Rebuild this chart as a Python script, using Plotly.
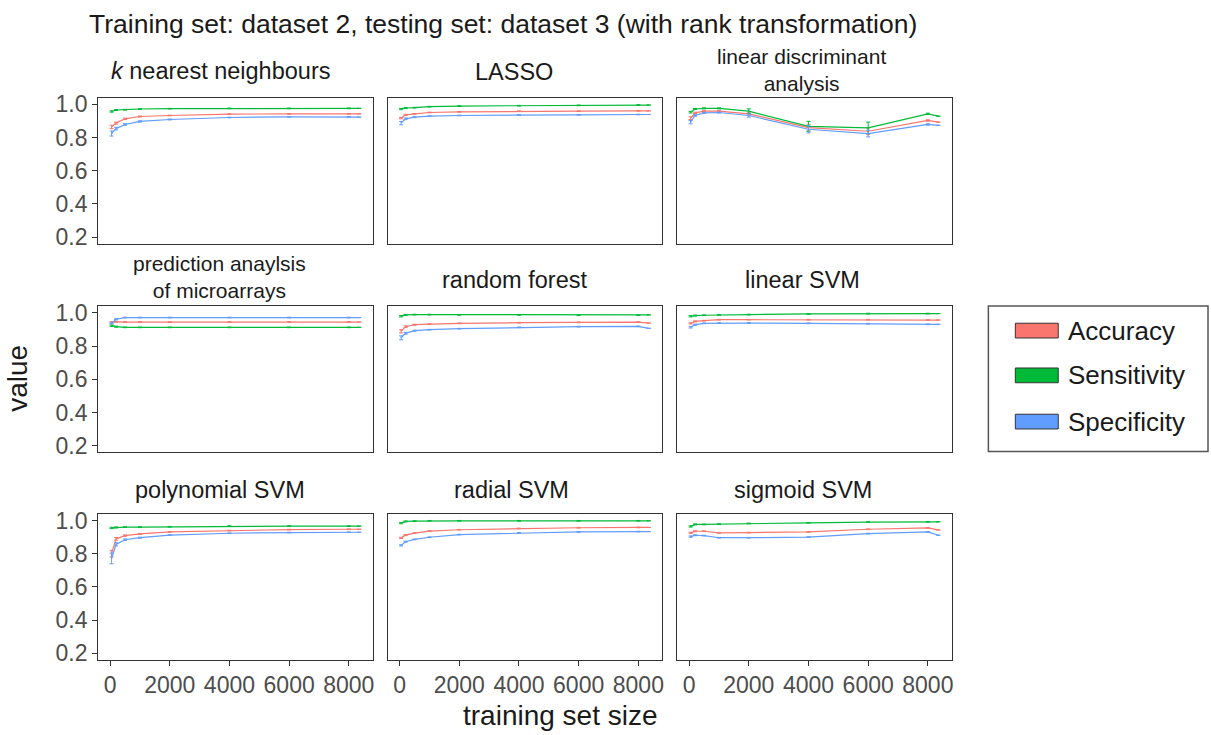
import plotly.graph_objects as go

W, H = 1211, 735

# ---------------- data ----------------
TRAIN_SIZES = [50, 200, 500, 1000, 2000, 4000, 6000, 8000, 8350]
X_TICKS = [0, 2000, 4000, 6000, 8000]
Y_TICKS = [0.2, 0.4, 0.6, 0.8, 1.0]
METRICS = ["Accuracy", "Sensitivity", "Specificity"]
COLORS = ["#F8766D", "#00BA38", "#619CFF"]

knn_acc = [0.864, 0.887, 0.913, 0.927, 0.933, 0.941, 0.943, 0.943, 0.943]
knn_sens = [0.957, 0.966, 0.968, 0.972, 0.974, 0.976, 0.976, 0.976, 0.976]
knn_spec = [0.824, 0.854, 0.879, 0.897, 0.909, 0.921, 0.925, 0.925, 0.923]

lasso_acc = [0.917, 0.937, 0.943, 0.951, 0.955, 0.959, 0.959, 0.961, 0.961]
lasso_sens = [0.972, 0.978, 0.980, 0.986, 0.990, 0.992, 0.994, 0.996, 0.996]
lasso_spec = [0.887, 0.913, 0.923, 0.929, 0.933, 0.937, 0.937, 0.939, 0.939]

lda_acc = [0.917, 0.949, 0.959, 0.959, 0.943, 0.860, 0.838, 0.903, 0.893]
lda_sens = [0.953, 0.972, 0.976, 0.976, 0.959, 0.868, 0.858, 0.943, 0.929]
lda_spec = [0.893, 0.933, 0.949, 0.951, 0.933, 0.850, 0.824, 0.879, 0.874]

pam_acc = [0.943, 0.947, 0.945, 0.945, 0.945, 0.945, 0.945, 0.945, 0.945]
pam_sens = [0.923, 0.917, 0.913, 0.913, 0.913, 0.913, 0.913, 0.913, 0.913]
pam_spec = [0.937, 0.962, 0.972, 0.972, 0.972, 0.972, 0.972, 0.972, 0.972]

rf_acc = [0.889, 0.917, 0.929, 0.933, 0.937, 0.941, 0.943, 0.945, 0.939]
rf_sens = [0.980, 0.988, 0.990, 0.990, 0.988, 0.988, 0.986, 0.986, 0.988]
rf_spec = [0.850, 0.877, 0.893, 0.899, 0.905, 0.913, 0.917, 0.919, 0.907]

lsvm_acc = [0.937, 0.949, 0.953, 0.959, 0.959, 0.959, 0.959, 0.957, 0.957]
lsvm_sens = [0.980, 0.984, 0.986, 0.988, 0.990, 0.994, 0.996, 0.996, 0.996]
lsvm_spec = [0.913, 0.929, 0.937, 0.939, 0.939, 0.937, 0.935, 0.931, 0.931]

psvm_acc = [0.800, 0.889, 0.909, 0.919, 0.931, 0.939, 0.945, 0.947, 0.947]
psvm_sens = [0.955, 0.958, 0.960, 0.960, 0.962, 0.966, 0.966, 0.966, 0.966]
psvm_spec = [0.771, 0.856, 0.884, 0.896, 0.912, 0.923, 0.927, 0.929, 0.929]

rsvm_acc = [0.895, 0.912, 0.924, 0.936, 0.944, 0.952, 0.956, 0.958, 0.958]
rsvm_sens = [0.984, 0.994, 0.996, 0.998, 0.998, 0.998, 0.998, 0.998, 0.998]
rsvm_spec = [0.850, 0.872, 0.886, 0.899, 0.915, 0.925, 0.931, 0.933, 0.933]

ssvm_acc = [0.925, 0.935, 0.935, 0.925, 0.927, 0.931, 0.947, 0.955, 0.943]
ssvm_sens = [0.964, 0.976, 0.976, 0.978, 0.982, 0.986, 0.990, 0.992, 0.992]
ssvm_spec = [0.903, 0.911, 0.909, 0.896, 0.896, 0.900, 0.921, 0.931, 0.911]

# error-bar half widths
err_small = [0.004, 0.003, 0.002, 0.002, 0.002, 0.002, 0.002, 0.002, 0.0]
knn_err_acc = [0.010, 0.006, 0.004, 0.003, 0.002, 0.002, 0.002, 0.002, 0.0]
knn_err_spec = [0.015, 0.008, 0.005, 0.004, 0.003, 0.002, 0.002, 0.002, 0.0]
lasso_err_spec = [0.010, 0.005, 0.003, 0.002, 0.002, 0.002, 0.002, 0.002, 0.0]
lda_err_acc = [0.008, 0.004, 0.003, 0.003, 0.010, 0.020, 0.020, 0.004, 0.0]
lda_err_sens = [0.005, 0.003, 0.003, 0.003, 0.014, 0.030, 0.035, 0.004, 0.0]
lda_err_spec = [0.010, 0.005, 0.003, 0.003, 0.010, 0.022, 0.020, 0.004, 0.0]
rf_err_acc = [0.010, 0.005, 0.003, 0.002, 0.002, 0.002, 0.002, 0.002, 0.0]
rf_err_spec = [0.012, 0.006, 0.003, 0.002, 0.002, 0.002, 0.002, 0.002, 0.0]
psvm_err_acc = [0.020, 0.008, 0.004, 0.003, 0.002, 0.002, 0.002, 0.002, 0.0]
psvm_err_spec = [0.032, 0.010, 0.005, 0.003, 0.002, 0.002, 0.002, 0.002, 0.0]

PANEL_TITLES = [
    "<i>k</i> nearest neighbours", "LASSO", "linear discriminant<br>analysis",
    "prediction anaylsis<br>of microarrays", "random forest", "linear SVM",
    "polynomial SVM", "radial SVM", "sigmoid SVM",
]
PANEL_SERIES = [
    [knn_acc, knn_sens, knn_spec], [lasso_acc, lasso_sens, lasso_spec], [lda_acc, lda_sens, lda_spec],
    [pam_acc, pam_sens, pam_spec], [rf_acc, rf_sens, rf_spec], [lsvm_acc, lsvm_sens, lsvm_spec],
    [psvm_acc, psvm_sens, psvm_spec], [rsvm_acc, rsvm_sens, rsvm_spec], [ssvm_acc, ssvm_sens, ssvm_spec],
]
PANEL_ERRORS = [
    [knn_err_acc, err_small, knn_err_spec], [err_small, err_small, lasso_err_spec],
    [lda_err_acc, lda_err_sens, lda_err_spec], [err_small, err_small, err_small],
    [rf_err_acc, err_small, rf_err_spec], [err_small, err_small, err_small],
    [psvm_err_acc, err_small, psvm_err_spec], [err_small, err_small, err_small],
    [err_small, err_small, err_small],
]

# ---------------- layout geometry (pixels) ----------------
COL_X = [(98.3, 373.3), (388.3, 663.3), (678.3, 953.3)]
ROW_Y = [(93.25, 241.75), (305.25, 453.75), (516.25, 664.75)]
TITLE_POS = [(221, 66), (515, 67), (803, 65),
             (220, 276), (515, 279), (804, 279),
             (220, 492), (512, 492), (804, 492)]
TITLE_SIZE = [23.5, 23.5, 21, 21, 23.5, 23.5, 23.5, 23.5, 23.5]


def px(x):
    return x / W


def py(y):
    return 1 - y / H


fig = go.Figure()
layout = dict(
    width=W, height=H,
    margin=dict(l=0, r=0, t=0, b=0),
    paper_bgcolor="white", plot_bgcolor="white",
    showlegend=False,
    font=dict(family="Liberation Sans, Arial, sans-serif", color="#1a1a1a"),
)
annotations = []
shapes = []

for i in range(9):
    r, c = divmod(i, 3)
    n = i + 1
    xa = "x" if n == 1 else f"x{n}"
    ya = "y" if n == 1 else f"y{n}"
    for m in range(3):
        fig.add_trace(go.Scatter(
            x=TRAIN_SIZES, y=PANEL_SERIES[i][m], mode="lines",
            line=dict(color=COLORS[m], width=1.2),
            error_y=dict(type="data", array=PANEL_ERRORS[i][m], visible=True,
                         color=COLORS[m], thickness=1, width=2),
            name=METRICS[m], xaxis=xa, yaxis=ya,
        ))
    x0, x1 = COL_X[c]
    y0, y1 = ROW_Y[r]
    common = dict(showline=True, mirror=True, linecolor="#333333", linewidth=1,
                  showgrid=False, zeroline=False,
                  tickfont=dict(size=23, color="#4D4D4D"), tickcolor="#333333", ticklen=5)
    layout["xaxis" if n == 1 else f"xaxis{n}"] = dict(
        domain=[px(x0), px(x1)], anchor=ya, range=[-400, 8800],
        tickvals=X_TICKS, ticks="outside" if r == 2 else "",
        showticklabels=(r == 2), **common)
    layout["yaxis" if n == 1 else f"yaxis{n}"] = dict(
        domain=[py(y1), py(y0)], anchor=xa, range=[0.16, 1.04],
        tickvals=Y_TICKS, tickformat=".1f", ticks="outside" if c == 0 else "",
        showticklabels=(c == 0), **common)
    tx, ty = TITLE_POS[i]
    annotations.append(dict(text=PANEL_TITLES[i], x=px(tx), y=py(ty), xref="paper", yref="paper",
                            showarrow=False, xanchor="center", yanchor="middle",
                            font=dict(size=TITLE_SIZE[i], color="#1a1a1a")))

# main title and axis titles
annotations.append(dict(text="Training set: dataset 2, testing set: dataset 3 (with rank transformation)",
                        x=px(504), y=py(18), xref="paper", yref="paper", showarrow=False,
                        xanchor="center", yanchor="middle", font=dict(size=26.5, color="#1a1a1a")))
annotations.append(dict(text="training set size", x=px(561), y=py(721), xref="paper", yref="paper",
                        showarrow=False, xanchor="center", yanchor="middle",
                        font=dict(size=28, color="#1a1a1a")))
annotations.append(dict(text="value", x=px(18), y=py(378), xref="paper", yref="paper",
                        showarrow=False, xanchor="center", yanchor="middle", textangle=-90,
                        font=dict(size=28, color="#1a1a1a")))

# legend box (manual)
shapes.append(dict(type="rect", xref="paper", yref="paper", x0=px(990), x1=px(1210), y0=py(453), y1=py(305),
                   line=dict(color="#555555", width=1.5), fillcolor="white"))
LEGEND_Y = [330, 375.5, 422.5]
for m in range(3):
    cy = LEGEND_Y[m]
    shapes.append(dict(type="rect", xref="paper", yref="paper", x0=px(1017), x1=px(1060),
                       y0=py(cy + 7.5), y1=py(cy - 7.5), fillcolor=COLORS[m],
                       line=dict(color="#333333", width=1)))
    annotations.append(dict(text=METRICS[m], x=px(1068), y=py(cy), xref="paper", yref="paper",
                            showarrow=False, xanchor="left", yanchor="middle",
                            font=dict(size=26, color="#1a1a1a")))

layout["annotations"] = annotations
layout["shapes"] = shapes
fig.update_layout(**layout)
fig.write_html("out.html", config={"displayModeBar": False},
               post_script="document.body.style.margin='0';document.body.style.overflow='hidden';")
